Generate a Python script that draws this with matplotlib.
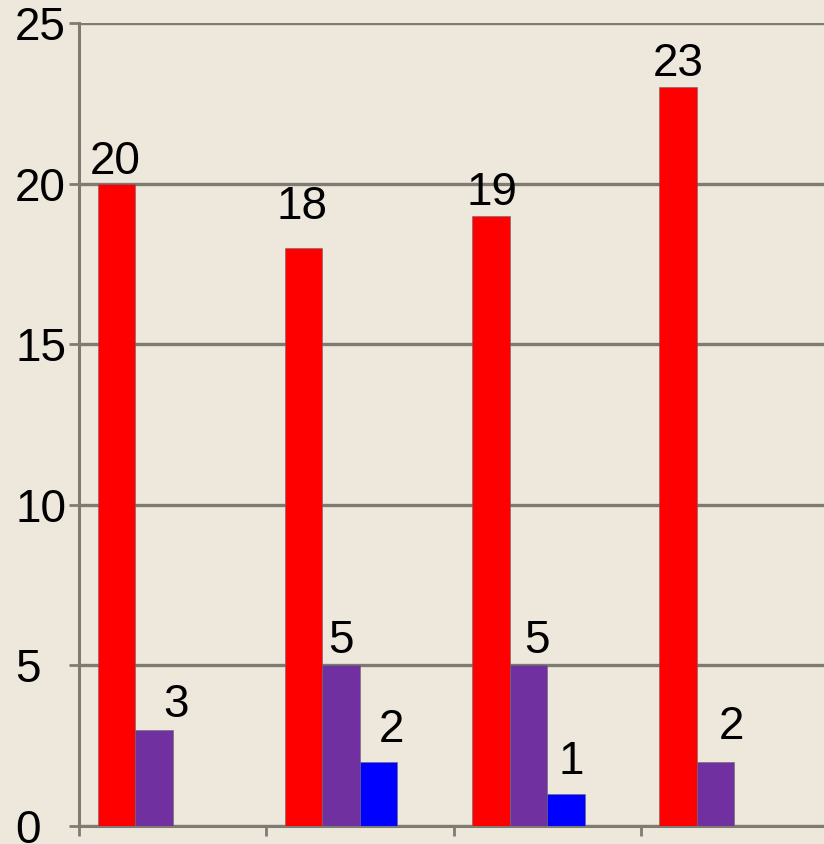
import matplotlib
matplotlib.use('Agg')
import matplotlib.pyplot as plt
import numpy as np

# data
groups = ['A', 'B', 'C', 'D']
red_vals = [20, 18, 19, 23]
purple_vals = [3, 5, 5, 2]
blue_vals = [0, 2, 1, 0]
yticks = [0, 5, 10, 15, 20, 25]

# label nudges (points, from the baseline) to follow the hand-placed labels
red_off = [(-1, 7), (-1, 21), (1, 8), (0, 8)]
purple_off = [(16, 9), (0, 9), (6.5, 9), (11.5, 16.5)]
blue_off = [(0, 14), (9, 14), (4, 14), (0, 14)]

bg = '#EEE8DC'
grid_col = '#7F7B73'

plt.rcParams['font.family'] = ['Liberation Sans', 'DejaVu Sans']

W, H = 824, 844
fig = plt.figure(figsize=(W / 100, H / 100), dpi=100)
fig.patch.set_facecolor(bg)

# axes from x=79 to x=828 (runs just past the right edge), y=23 to y=826
ax = fig.add_axes([79 / W, (H - 826) / H, (828 - 79) / W, (826 - 23) / H])
ax.set_facecolor(bg)

x = np.arange(len(groups))
bw = 0.2
series = [(red_vals, '#FF0000', red_off, 0.1),
          (purple_vals, '#7030A0', purple_off, 0.3),
          (blue_vals, '#0000FF', blue_off, 0.5)]

for vals, col, offs, start in series:
    for xi, v, off in zip(x, vals, offs):
        if v == 0:
            continue
        ax.bar(xi + start, v, width=bw, align='edge', color=col,
               edgecolor='#6a6a6a', linewidth=0.4, zorder=3)
        ax.annotate(str(v), (xi + start + bw / 2, v), xytext=off,
                    textcoords='offset points', ha='center', va='baseline',
                    fontsize=33, color='black', zorder=4)

ax.set_xlim(0, 4)
ax.set_ylim(0, 25)
ax.set_yticks(yticks)
ax.set_xticks(np.arange(0, 5))
ax.set_xticklabels([])
ax.yaxis.grid(True, color=grid_col, linewidth=2.4, zorder=1)
ax.set_axisbelow(True)

for s in ['top', 'right']:
    ax.spines[s].set_visible(False)
for s in ['left', 'bottom']:
    ax.spines[s].set_color(grid_col)
    ax.spines[s].set_linewidth(2.2)

# y labels are left-aligned in the original (left edge near x=15 px)
ax.tick_params(axis='y', direction='out', length=7, width=2, color=grid_col,
               labelsize=33, pad=39, labelcolor='black')
for lab in ax.get_yticklabels():
    lab.set_horizontalalignment('left')
ax.tick_params(axis='x', direction='out', length=7, width=2, color=grid_col)

fig.savefig('out.png', dpi=100, facecolor=bg)
